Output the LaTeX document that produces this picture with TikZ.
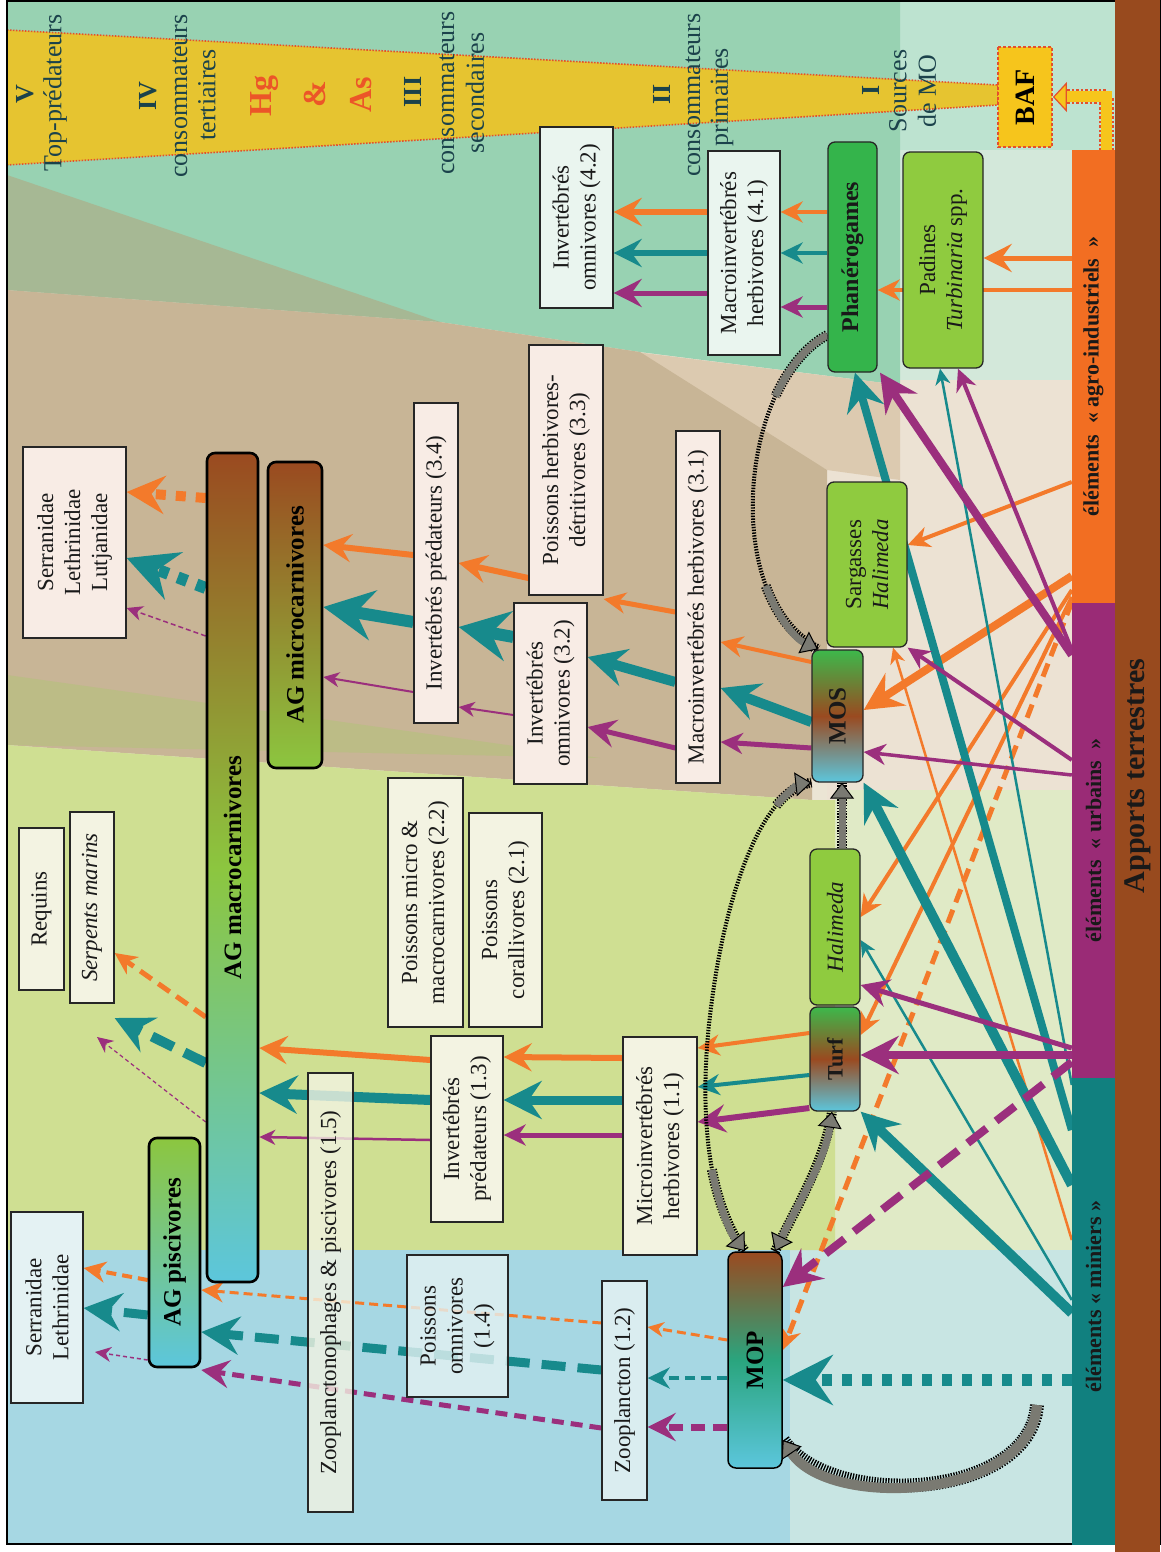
\documentclass[tikz,border=0pt]{standalone}
\usepackage{fontspec}
\setmainfont{Liberation Serif}
\usetikzlibrary{arrows.meta}
\definecolor{cOr}{HTML}{F37A2B}
\definecolor{cTe}{HTML}{178A8C}
\definecolor{cPu}{HTML}{9B2F7D}
\definecolor{cBarO}{HTML}{F26E22}
\definecolor{cBarT}{HTML}{11807F}
\definecolor{cBarP}{HTML}{9A2B76}
\definecolor{cBrownBar}{HTML}{984A1E}
\definecolor{cYel}{HTML}{E6C430}
\definecolor{cBafY}{HTML}{F6C51C}
\definecolor{cRed}{HTML}{E4502C}
\definecolor{cLab}{HTML}{1B424B}
\definecolor{cHg}{HTML}{EC5528}
\definecolor{cGray}{HTML}{7A7A72}
\definecolor{cBrown}{HTML}{9A4A20}
\definecolor{cGreen}{HTML}{8CC63F}
\definecolor{cCyan}{HTML}{5CC6DC}
\definecolor{cMosG}{HTML}{3DB84B}
\definecolor{cTeG}{HTML}{2AA57E}
\definecolor{cPhan}{HTML}{34B44B}
\definecolor{cAlg}{HTML}{8FCB3F}
\definecolor{fPink}{HTML}{F8ECE5}
\definecolor{fCream}{HTML}{F3F3E2}
\definecolor{fMint}{HTML}{EAF5EF}
\definecolor{fBlue}{HTML}{E4F2F3}
\definecolor{gBase}{HTML}{EBE5D4}
\definecolor{gPaleMint}{HTML}{BDE3D0}
\definecolor{gMintR}{HTML}{D3E8DA}
\definecolor{gMint}{HTML}{98D2B2}
\definecolor{gDark}{HTML}{A6B894}
\definecolor{gTan}{HTML}{C8B596}
\definecolor{gBeige}{HTML}{DCCAB0}
\definecolor{gPink}{HTML}{ECE2D3}
\definecolor{gOlive}{HTML}{BCBC86}
\definecolor{gYG}{HTML}{CFDF92}
\definecolor{gGreenR}{HTML}{E0EAC6}
\definecolor{gBlue}{HTML}{A6D7E3}
\definecolor{gBlueR}{HTML}{C8E5E3}
\pgfdeclarelayer{bgl}
\pgfdeclarelayer{arl}
\pgfsetlayers{bgl,arl,main}
\begin{document}
\begin{tikzpicture}[x=1pt,y=-1pt,
  bx/.style={draw=black!85, line width=1.3pt, rotate=90, align=center, text=black!90, inner sep=1pt, font=\fontsize{23}{27}\selectfont},
  rb/.style={bx, rounded corners=7pt},
  ag/.style={draw=black, line width=2.6pt, rotate=90, rounded corners=8pt, text=black, font=\bfseries\fontsize{25}{28}\selectfont, inner sep=1pt},
  lab/.style={rotate=90, text=cLab, font=\fontsize{26}{28}\selectfont, inner sep=0pt},
  labn/.style={lab, font=\bfseries\fontsize{26}{28}\selectfont},
  hgs/.style={rotate=90, text=cHg, inner sep=0pt, font=\bfseries\fontsize{32}{34}\selectfont},
  barn/.style={rotate=90, inner sep=0pt, text=black!90, font=\bfseries\fontsize{22}{24}\selectfont},
  tA/.style={-{Stealth[length=16pt,width=15pt,inset=5pt]}},
  tB/.style={-{Stealth[length=22pt,width=21pt,inset=7pt]}},
  tC/.style={-{Stealth[length=28pt,width=28pt,inset=10pt]}},
  tD/.style={-{Stealth[length=38pt,width=38pt,inset=13pt]}},
  tE/.style={-{Stealth[length=50pt,width=50pt,inset=17pt]}},
  aO/.style={draw=cOr}, aT/.style={draw=cTe}, aP/.style={draw=cPu},
  dsh/.style={dash pattern=on 14pt off 8pt},
  dshL/.style={dash pattern=on 24pt off 12pt},
  sq/.style={dash pattern=on 10pt off 10pt},
  detb/.style={draw=black, line width=10pt, dash pattern=on 1.4pt off 1.4pt},
  detf/.style={draw=cGray, line width=7pt},
  detthin/.style={draw=black, line width=4pt, dash pattern=on 1.4pt off 1.4pt},
  dtip/.style={-{Triangle[length=16pt,width=24pt,color=black,fill=cGray,line width=1pt]}},
  dtipb/.style={{Triangle[length=16pt,width=24pt,color=black,fill=cGray,line width=1pt]}-{Triangle[length=16pt,width=24pt,color=black,fill=cGray,line width=1pt]}},
]
\useasboundingbox (0,0) rectangle (1160,1552);
% ---------------- background
\begin{pgfonlayer}{bgl}
\fill[gBase] (7,0) rectangle (1072,1545);
\fill[gPaleMint] (7,0) rectangle (1115,150);
\fill[gMintR] (880,150) rectangle (1072,420);
\fill[gPink] (827,380) rectangle (1072,800);
\fill[gGreenR] (835,790) rectangle (1072,1250);
\fill[gBlueR] (790,1250) rectangle (1072,1545);
\fill[gMint] (7,0) -- (900,0) -- (900,385) -- (640,352) -- (440,322) -- (7,290) -- cycle;
\fill[gDark] (7,175) -- (440,322) -- (7,290) -- cycle;
\fill[gBeige] (620,350) -- (900,385) -- (900,480) -- (827,470) -- cycle;
\fill[gTan] (7,290) -- (440,322) -- (640,352) -- (827,470) -- (827,650) -- (812,650) -- (812,800) -- (7,745) -- cycle;
\fill[gOlive] (7,675) -- (600,758) -- (7,745) -- cycle;
\fill[gYG] (7,745) -- (812,800) -- (835,800) -- (835,1250) -- (7,1250) -- cycle;
\fill[gBlue] (7,1250) rectangle (790,1545);
\filldraw[fill=cYel, draw=cRed, line width=1.6pt, dash pattern=on 1.5pt off 1.5pt] (7,30) -- (998,85) -- (998,105) -- (7,165) -- cycle;
\draw[line width=1.5pt] (7,1) rectangle (1160,1544);
\end{pgfonlayer}
% ---------------- source bars
\node[barn, fill=cBrownBar, minimum width=1552pt, minimum height=45pt, font=\bfseries\fontsize{30}{32}\selectfont] (terre) at (1137.5,776) {Apports terrestres};
\node[barn, fill=cBarO, minimum width=453pt, minimum height=43pt] (agro) at (1093.5,376.5) {éléments~~«~agro-industriels~~»};
\node[barn, fill=cBarP, minimum width=475pt, minimum height=43pt] (urb) at (1093.5,840.5) {éléments~~«~urbains~~»};
\node[barn, fill=cBarT, minimum width=467pt, minimum height=43pt] (mine) at (1093.5,1311.5) {\hspace*{30pt}éléments~«~miniers~»};
\node[rotate=90, draw=cRed, line width=1.8pt, dash pattern=on 3pt off 2pt, fill=cBafY, minimum width=100pt, minimum height=54pt, inner sep=0pt, font=\bfseries\fontsize{28}{30}\selectfont] (baf) at (1025,97) {BAF};
% ---------------- trophic labels
\node[labn] (lV) at (25,94) {V};
\node[lab] (lTop) at (55,93) {Top-prédateurs};
\node[labn] (lIV) at (148,96) {IV};
\node[lab] (lc4) at (180,96) {consommateurs};
\node[lab] (lt4) at (207,95) {tertiaires};
\node[hgs] (hg) at (265,96) {Hg};
\node[hgs] (amp) at (315,94) {\&};
\node[hgs] (as) at (361,95) {As};
\node[labn] (lIII) at (413,92) {III};
\node[lab] (lc3) at (447,93) {consommateurs};
\node[lab] (ls3) at (475,93) {secondaires};
\node[labn] (lII) at (662,94) {II};
\node[lab] (lc2) at (693,95) {consommateurs};
\node[lab] (lp2) at (722,97) {primaires};
\node[labn] (lI) at (871,90) {I};
\node[lab] (lS) at (898,91) {Sources};
\node[lab] (lMO) at (927,91) {de MO};
% ---------------- boxes
\node[bx, fill=fPink, minimum width=191pt, minimum height=103pt] (serr3) at (74.5,542.5) {Serranidae\\Lethrinidae\\Lutjanidae};
\node[ag, top color=cBrown, bottom color=cCyan, middle color=cGreen, minimum width=829pt, minimum height=51pt] (agmacro) at (232.5,867.5) {AG macrocarnivores};
\node[ag, top color=cBrown, bottom color=cGreen, minimum width=306pt, minimum height=54pt] (agmicro) at (295,615) {AG microcarnivores};
\node[ag, top color=cGreen, bottom color=cCyan, minimum width=229pt, minimum height=51pt] (agpisc) at (174.5,1252.5) {AG piscivores};
\node[bx, fill=fBlue, minimum width=191pt, minimum height=72pt] (serr2) at (47,1307.5) {Serranidae\\Lethrinidae};
\node[bx, fill=fCream, minimum width=162pt, minimum height=45pt] (req) at (41.5,909) {Requins};
\node[bx, fill=fCream, minimum width=191pt, minimum height=44pt] (serp) at (92,907.5) {\textit{Serpents marins}};
\node[bx, fill=fCream, fill opacity=0.8, text opacity=1, minimum width=439pt, minimum height=45pt] (zp15) at (330.5,1292.5) {Zooplanctonophages \& piscivores (1.5)};
\node[bx, fill=fBlue, fill opacity=0.8, text opacity=1, minimum width=142pt, minimum height=101pt] (po14) at (457.5,1326) {Poissons\\omnivores\\(1.4)};
\node[bx, fill=fBlue, fill opacity=0.85, text opacity=1, minimum width=219pt, minimum height=45pt] (zoo) at (624.5,1390.5) {Zooplancton (1.2)};
\node[ag, line width=1.5pt, top color=cBrown, bottom color=cCyan, middle color=cTeG, minimum width=216pt, minimum height=54pt] (mop) at (755,1360) {MOP};
\node[bx, fill=fCream, minimum width=186pt, minimum height=72pt] (ip13) at (467,1129) {Invertébrés\\prédateurs (1.3)};
\node[bx, fill=fCream, minimum width=218pt, minimum height=74pt] (mh11) at (660,1146) {Microinvertébrés\\herbivores (1.1)};
\node[bx, fill=fCream, minimum width=249pt, minimum height=75pt] (pm22) at (425.5,902.5) {Poissons micro \&\\macrocarnivores (2.2)};
\node[bx, fill=fCream, minimum width=214pt, minimum height=73pt] (pc21) at (505.5,920) {Poissons\\corallivores (2.1)};
\node[bx, fill=fPink, minimum width=320pt, minimum height=44pt] (ip34) at (436,563) {Invertébrés prédateurs (3.4)};
\node[bx, fill=fPink, minimum width=250pt, minimum height=74pt] (ph33) at (566,470) {Poissons herbivores-\\détritivores (3.3)};
\node[bx, fill=fPink, minimum width=181pt, minimum height=73pt] (io32) at (550.5,693.5) {Invertébrés\\omnivores (3.2)};
\node[bx, fill=fPink, minimum width=352pt, minimum height=44pt] (mh31) at (698,607) {Macroinvertébrés herbivores (3.1)};
\node[bx, fill=fMint, minimum width=181pt, minimum height=73pt] (io42) at (576.5,217.5) {Invertébrés\\omnivores (4.2)};
\node[bx, fill=fMint, minimum width=204pt, minimum height=72pt] (mh41) at (744,253) {Macroinvertébrés\\herbivores (4.1)};
\node[rb, fill=cPhan, minimum width=230pt, minimum height=49pt, font=\bfseries\fontsize{24}{27}\selectfont] (phan) at (852.5,257) {Phanérogames};
\node[rb, fill=cAlg, minimum width=216pt, minimum height=80pt] (pad) at (943,260) {Padines\\\textit{Turbinaria} spp.};
\node[rb, fill=cAlg, minimum width=165pt, minimum height=80pt] (sarg) at (867,564.5) {Sargasses\\\textit{Halimeda}};
\node[rb, top color=cMosG, bottom color=cCyan, middle color=cBrown, minimum width=132pt, minimum height=51pt, font=\bfseries\fontsize{25}{27}\selectfont] (mos) at (837.5,716) {MOS};
\node[rb, fill=cAlg, minimum width=156pt, minimum height=50pt] (hal) at (835,927) {\textit{Halimeda}};
\node[rb, top color=cMosG, bottom color=cCyan, middle color=cBrown, minimum width=104pt, minimum height=50pt, font=\bfseries\fontsize{22}{25}\selectfont] (turf) at (835,1059) {Turf};
% ---------------- arrows
\begin{pgfonlayer}{arl}
% sources -> producers
\draw[aO,line width=5pt,tC] (agro.north |- 0,258) -- (pad.south |- 0,258);
\draw[aO,line width=4pt,tB] (agro.north |- 0,290) -- (phan.south |- 0,290);
\draw[aO,line width=4pt,tB] (agro.north |- 0,482) -- (sarg.south |- 0,545);
\draw[aO,line width=8pt,tD] (agro.north |- 0,576) -- (mos.south |- 0,710);
\draw[aO,line width=4pt,tB] (agro.north |- 0,590) -- (hal.south |- 0,917);
\draw[aO,line width=4pt,tB] (agro.north |- 0,597) -- (turf.south |- 0,1035);
\draw[aO,line width=5pt,dsh,tB] (agro.north |- 0,602) -- (mop.south |- 0,1350);
\draw[aO,line width=2.5pt,tA] (mine.north |- 0,1240) -- (sarg.west -| 893,0);
\draw[aT,line width=8pt,tD] (mine.north |- 0,1130) -- (phan.west -| 855,0);
\draw[aT,line width=2.5pt,tA] (mine.north |- 0,1085) -- (pad.west -| 940,0);
\draw[aT,line width=10pt,tD] (mine.north |- 0,1185) -- (mos.south west);
\draw[aT,line width=10pt,tD] (mine.north |- 0,1313) -- (turf.south west);
\draw[aT,line width=2.5pt,tA] (mine.north |- 0,1300) -- (hal.south |- 0,940);
\draw[aT,line width=12pt,sq,tE] (mine.north |- 0,1380) -- (mop.south |- 0,1380);
\draw[aP,line width=8pt,tD] (urb.north |- 0,655) -- (phan.west -| 880,0);
\draw[aP,line width=4pt,tB] (urb.north |- 0,650) -- (pad.west -| 958,0);
\draw[aP,line width=4pt,tB] (urb.north |- 0,760) -- (sarg.south west);
\draw[aP,line width=3.5pt,tB] (urb.north |- 0,775) -- (mos.south |- 0,752);
\draw[aP,line width=5pt,tC] (urb.north |- 0,1048) -- (hal.south |- 0,985);
\draw[aP,line width=8pt,tD] (urb.north |- 0,1055) -- (turf.south |- 0,1055);
\draw[aP,line width=8pt,dshL,tD] (urb.north |- 0,1062) -- (mop.south |- 0,1287);
% producers -> 4.1 -> 4.2
\draw[aO,line width=4pt,tB] (phan.north |- 0,212) -- (mh41.south |- 0,212);
\draw[aT,line width=4pt,tB] (phan.north |- 0,253) -- (mh41.south |- 0,253);
\draw[aP,line width=5pt,tB] (phan.north |- 0,307) -- (mh41.south |- 0,307);
\draw[aO,line width=6pt,tC] (mh41.north |- 0,212) -- (io42.south |- 0,212);
\draw[aT,line width=6pt,tC] (mh41.north |- 0,253) -- (io42.south |- 0,253);
\draw[aP,line width=5pt,tC] (mh41.north |- 0,293) -- (io42.south |- 0,293);
% MOS -> 3.1
\draw[aO,line width=4pt,tB] (mos.north |- 0,662) -- (mh31.south |- 0,642);
\draw[aT,line width=10pt,tD] (mos.north |- 0,722) -- (mh31.south |- 0,688);
\draw[aP,line width=5pt,tB] (mos.north |- 0,748) -- (mh31.south |- 0,742);
% 3.1 -> 3.2 / 3.3
\draw[aO,line width=5pt,tB] (mh31.north |- 0,612) -- (ph33.south |- 0,599);
\draw[aT,line width=10pt,tD] (mh31.north |- 0,682) -- (io32.south |- 0,657);
\draw[aP,line width=5pt,tC] (mh31.north |- 0,748) -- (io32.south |- 0,727);
% 3.2 / 3.3 -> 3.4
\draw[aO,line width=6pt,tC] (ph33.north |- 0,578) -- (ip34.south |- 0,563);
\draw[aT,line width=12pt,tE] (io32.north |- 0,637) -- (ip34.south |- 0,627);
\draw[aP,line width=2pt,tA] (io32.north |- 0,715) -- (ip34.south |- 0,707);
% 3.4 -> AG micro
\draw[aO,line width=6pt,tC] (ip34.north |- 0,555) -- (agmicro.south |- 0,545);
\draw[aT,line width=12pt,tE] (ip34.north |- 0,622) -- (agmicro.south |- 0,607);
\draw[aP,line width=2pt,tA] (ip34.north |- 0,692) -- (agmicro.south |- 0,677);
% AG macro -> families
\draw[aO,line width=10pt,sq,tD] (agmacro.north |- 0,498) -- (serr3.south |- 0,492);
\draw[aT,line width=12pt,sq,tE] (agmacro.north |- 0,588) -- (serr3.south |- 0,558);
\draw[aP,line width=1.5pt,dash pattern=on 5pt off 3pt,tA] (agmacro.north |- 0,636) -- (serr3.south |- 0,608);
\draw[aO,line width=5pt,dsh,tB] (agmacro.north |- 0,1017) -- (serp.south |- 0,953);
\draw[aT,line width=10pt,dshL,tD] (agmacro.north |- 0,1063) -- (serp.south |- 0,1018);
\coordinate (p15) at (97,1037);
\draw[aP,line width=1.2pt,dash pattern=on 4pt off 3pt,tA] (agmacro.north |- 0,1122) -- (p15);
% 1.3 -> AG macro ; 1.1 -> 1.3 ; Turf -> 1.1
\draw[aO,line width=6pt,tC] (ip13.north |- 0,1060) -- (agmacro.south |- 0,1048);
\draw[aT,line width=10pt,tD] (ip13.north |- 0,1100) -- (agmacro.south |- 0,1093);
\draw[aP,line width=2.5pt,tA] (ip13.north |- 0,1140) -- (agmacro.south |- 0,1137);
\draw[aO,line width=6pt,tC] (mh11.north |- 0,1058) -- (ip13.south |- 0,1057);
\draw[aT,line width=9pt,tD] (mh11.north |- 0,1100) -- (ip13.south |- 0,1100);
\draw[aP,line width=5pt,tB] (mh11.north |- 0,1135) -- (ip13.south |- 0,1135);
\draw[aO,line width=4pt,tB] (turf.north |- 0,1033) -- (mh11.south |- 0,1048);
\draw[aT,line width=4pt,tB] (turf.north |- 0,1075) -- (mh11.south |- 0,1087);
\draw[aP,line width=6pt,tC] (turf.north |- 0,1108) -- (mh11.south |- 0,1122);
% MOP -> Zooplancton -> AG pisc -> families
\draw[aO,line width=3pt,dash pattern=on 9pt off 5pt,tA] (mop.north |- 0,1340) -- (zoo.south |- 0,1327);
\draw[aT,line width=4pt,dash pattern=on 10pt off 6pt,tB] (mop.north |- 0,1378) -- (zoo.south |- 0,1378);
\draw[aP,line width=7pt,dash pattern=on 14pt off 8pt,tC] (mop.north |- 0,1427) -- (zoo.south |- 0,1427);
\draw[aO,line width=3pt,dash pattern=on 9pt off 5pt,tB] (zoo.north |- 0,1323) -- (agpisc.south |- 0,1290);
\draw[aT,line width=9pt,dshL,tD] (zoo.north |- 0,1370) -- (agpisc.south |- 0,1332);
\draw[aP,line width=5pt,dash pattern=on 12pt off 7pt,tC] (zoo.north |- 0,1428) -- (agpisc.south |- 0,1370);
\draw[aO,line width=4pt,dash pattern=on 10pt off 6pt,tB] (agpisc.north |- 0,1280) -- (serr2.south |- 0,1268);
\draw[aT,line width=9pt,dshL,tD] (agpisc.north |- 0,1315) -- (serr2.south |- 0,1308);
\coordinate (p21) at (95,1352);
\draw[aP,line width=1.5pt,dash pattern=on 4pt off 3pt,tA] (agpisc.north |- 0,1360) -- (p21);
% detritus flows: Phanerogames -> MOS (thick ends, thin middle)
\draw[detthin] (phan.north |- 0,335) .. controls (740,380) and (720,600) .. (mos.east -| 818,0);
\coordinate (a1s) at (775.5,396.2);
\coordinate (a1e) at (765.8,586);
\draw[detb] (phan.north |- 0,335) .. controls (806,346.25) and (788.25,368.44) .. (a1s);
\draw[detf] (phan.north |- 0,335) .. controls (806,346.25) and (788.25,368.44) .. (a1s);
\draw[detb] (a1e) .. controls (776.4,614.4) and (793.5,637.5) .. (mos.east -| 818,0);
\draw[detf,dtip] (a1e) .. controls (776.4,614.4) and (793.5,637.5) .. (mos.east -| 818,0);
% MOS <-> MOP
\draw[detthin] (mos.north west) .. controls (760,790) and (725,900) .. (712,1000) .. controls (698,1100) and (705,1200) .. (mop.east -| 745,0);
\coordinate (a2s) at (776.3,805.4);
\coordinate (a2e) at (711.9,1169.6);
\draw[detb] (a2s) .. controls (787.06,792.4) and (799,784) .. (mos.north west);
\draw[detf,dtip] (a2s) .. controls (787.06,792.4) and (799,784) .. (mos.north west);
\draw[detb] (a2e) .. controls (718.28,1202.7) and (729,1231.2) .. (mop.east -| 745,0);
\draw[detf,dtip] (a2e) .. controls (718.28,1202.7) and (729,1231.2) .. (mop.east -| 745,0);
% MOP <-> Turf
\draw[detb] (mop.east -| 775,0) .. controls (800,1200) and (825,1160) .. (turf.west -| 832,0);
\draw[detf,dtipb] (mop.east -| 775,0) .. controls (800,1200) and (825,1160) .. (turf.west -| 832,0);
% Halimeda -> MOS
\draw[detb] (hal.east -| 842,0) -- (mos.west -| 842,0);
\draw[detf,dtip] (hal.east -| 842,0) -- (mos.west -| 842,0);
% hook into MOP
\coordinate (hk) at (1037,1405);
\draw[detb,line width=14pt] (hk) .. controls (1030,1500) and (830,1510) .. (mop.south |- 0,1440);
\draw[detf,line width=10pt,dtip] (hk) .. controls (1030,1500) and (830,1510) .. (mop.south |- 0,1440);
% BAF
\coordinate (bafs) at (1106,182);
\draw[draw=cRed, line width=15pt, dash pattern=on 2.5pt off 2pt, shorten >=10pt] (bafs) |- (baf.south);
\draw[draw=cBafY, line width=11pt, -{Triangle[length=14pt,width=30pt,color=cRed,fill=cBafY,line width=1.2pt]}] (bafs) |- (baf.south);
\end{pgfonlayer}
\end{tikzpicture}
\end{document}
